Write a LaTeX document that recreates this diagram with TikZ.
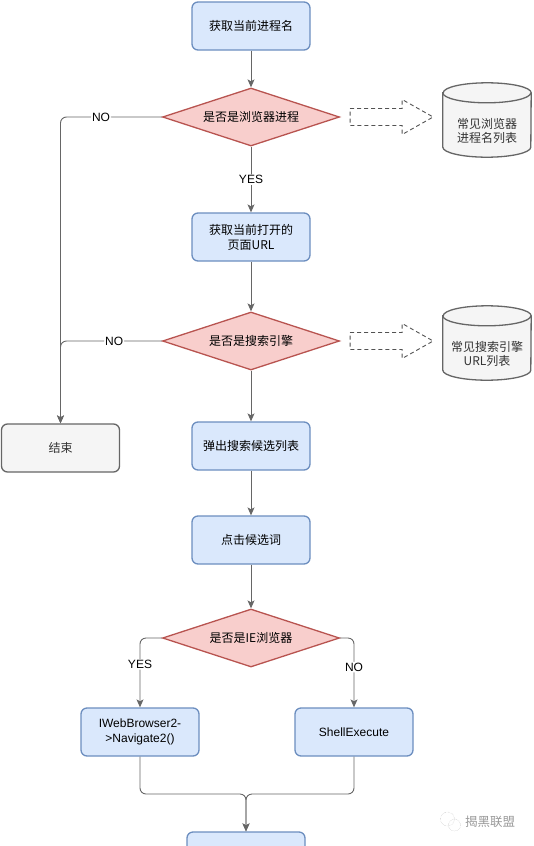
\documentclass[tikz,border=0pt]{standalone}
\usepackage{fontspec}
\setmainfont{Liberation Sans}
\newfontfamily\cjk{Noto Sans CJK SC}
\usetikzlibrary{arrows.meta,shapes.geometric,backgrounds}
\definecolor{bluefill}{HTML}{DAE8FC}
\definecolor{blueline}{HTML}{6C8EBF}
\definecolor{redfill}{HTML}{F8CECC}
\definecolor{redline}{HTML}{B85450}
\definecolor{grayfill}{HTML}{F5F5F5}
\definecolor{grayline}{HTML}{666666}
\definecolor{textgray}{HTML}{333333}

\tikzset{
  process/.style={draw=blueline, fill=bluefill, rounded corners=6pt, line width=1.3pt,
    minimum width=118pt, minimum height=48pt, inner sep=2pt, align=center,
    font=\cjk\fontsize{12pt}{15pt}\selectfont},
  latinbox/.style={process, font=\fontsize{12pt}{15pt}\selectfont},
  terminal/.style={process, draw=grayline, fill=grayfill, text=textgray},
  decision/.style={diamond, aspect=3, draw=redline, fill=redfill, line width=1.3pt,
    minimum width=177pt, minimum height=58pt, inner sep=0pt,
    font=\cjk\fontsize{12pt}{15pt}\selectfont},
  dbtext/.style={minimum width=88pt, minimum height=52pt, inner sep=0pt, align=center,
    text=textgray, font=\cjk\fontsize{12pt}{14pt}\selectfont},
  dbline/.style={draw=grayline, fill=grayfill, line width=1.3pt},
  flow/.style={draw=grayline, line width=0.9pt, rounded corners=6pt,
    -{Stealth[length=8pt,width=7pt,inset=2pt]}},
  answer/.style={fill=white, inner sep=1pt, text=black, font=\fontsize{12pt}{14pt}\selectfont},
  hollowarrow/.style={draw=grayline!80!black, fill=white, line width=0.9pt,
    dash pattern=on 4pt off 3pt},
  watermark/.style={text=black!40, font=\cjk\fontsize{12.5pt}{14pt}\selectfont}
}

\begin{document}
\begin{tikzpicture}[x=1pt, y=1pt]
    \useasboundingbox (0,0) rectangle (533,-846);
    \clip (0,0) rectangle (533,-846);
    \node[process] (1) at (251,-26) {获取当前进程名};
    \node[decision] (2) at (251,-117) {是否是浏览器进程};
    \node[dbtext] (3) at (487,-131) {常见浏览器\\进程名列表};
    \node[process] (4) at (251,-237) {获取当前打开的\\页面URL};
    \node[decision] (5) at (251,-341) {是否是搜索引擎};
    \node[dbtext] (6) at (487,-354) {常见搜索引擎\\URL列表};
    \node[terminal] (7) at (60.5,-448) {结束};
    \node[process] (8) at (251,-446) {弹出搜索候选列表};
    \node[process] (9) at (251,-540) {点击候选词};
    \node[decision] (10) at (251,-638) {是否是IE浏览器};
    \node[latinbox] (11) at (140,-732) {IWebBrowser2-\\>Navigate2()};
    \node[latinbox] (12) at (354,-732) {ShellExecute};
    \node[process] (13) at (246,-856) {};
    \coordinate (m) at (246,-794);
    \node[watermark] (14) at (490,-822) {揭黑联盟};
\begin{scope}[on background layer]
    \foreach \c in {3,6} {
      \draw[dbline] ([yshift=12pt]\c.north west) -- ([yshift=10pt]\c.south west)
        arc[start angle=180, end angle=360, x radius=44pt, y radius=10pt]
        -- ([yshift=12pt]\c.north east)
        arc[start angle=0, end angle=180, x radius=44pt, y radius=10pt] -- cycle;
      \draw[dbline, fill=none] ([yshift=12pt]\c.north west)
        arc[start angle=180, end angle=360, x radius=44pt, y radius=10pt];
    }
\end{scope}
    % dashed lookup arrows
    \foreach \d in {2,5} {
      \draw[hollowarrow] ([xshift=10pt,yshift=8.5pt]\d.east) -- ++(52,0) -- ++(0,9)
        -- ++(31,-17.5) -- ++(-31,-17.5) -- ++(0,9) -- ++(-52,0) -- cycle;
    }
    \draw[flow] (1) -- (2);
    \draw[flow] (2) -- node[answer] {YES} (4);
    \draw[flow] (2.west) -| node[answer, pos=0.3] {NO} (7.north);
    \draw[flow] (4) -- (5);
    \draw[flow] (5.west) -| node[answer, pos=0.235] {NO} (7.north);
    \draw[flow] (5) -- (8);
    \draw[flow] (8) -- (9);
    \draw[flow] (9) -- (10);
    \draw[flow] (10.west) -| node[answer, pos=0.69] {YES} (11.north);
    \draw[flow] (10.east) -| node[answer, pos=0.71] {NO} (12.north);
    \draw[flow] (11.south) |- (m) -- (13.north);
    \draw[flow] (12.south) |- (m) -- (13.north);
    % watermark icon
    \draw[black!30, densely dotted] ([xshift=-14pt,yshift=3pt]14.west) circle[radius=7pt];
    \draw[black!30, densely dotted] ([xshift=-7pt,yshift=-3pt]14.west) circle[radius=6pt];
\end{tikzpicture}
\end{document}
